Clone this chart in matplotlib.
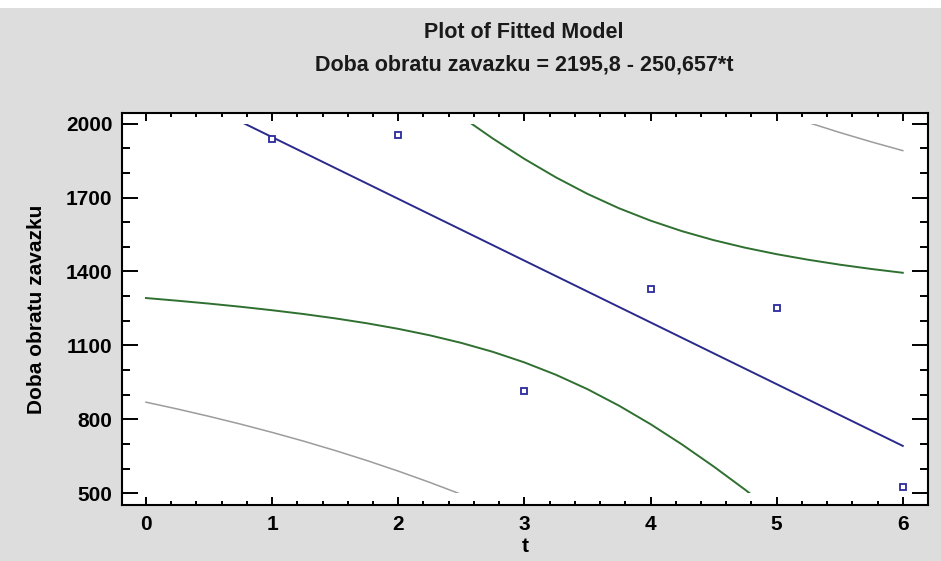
#!/usr/bin/env python3
"""
Plot of fitted model: Doba obratu zavazku vs t, with confidence and prediction limits.
"""

import matplotlib
matplotlib.use('Agg')
import matplotlib.pyplot as plt
from matplotlib.patches import Rectangle
from matplotlib.ticker import MultipleLocator

# Observed values
t_obs = [1, 2, 3, 4, 5, 6]
y_obs = [1939, 1955, 914, 1327, 1250, 525]

# Curves at quarter-step positions of t
t_grid = [0, 0.25, 0.5, 0.75, 1, 1.25, 1.5, 1.75, 2, 2.25, 2.5, 2.75, 3,
          3.25, 3.5, 3.75, 4, 4.25, 4.5, 4.75, 5, 5.25, 5.5, 5.75, 6]
fitted = [2195.8, 2133.1, 2070.5, 2007.8, 1945.1, 1882.5, 1819.8, 1757.2,
          1694.5, 1631.8, 1569.2, 1506.5, 1443.8, 1381.2, 1318.5, 1255.8,
          1193.2, 1130.5, 1067.8, 1005.2, 942.5, 879.9, 817.2, 754.5, 691.9]
conf_lower = [1292.0, 1281.1, 1269.4, 1256.6, 1242.5, 1227.0, 1209.5, 1189.7,
              1167.0, 1140.7, 1109.9, 1073.6, 1030.8, 980.6, 922.2, 855.2,
              780.2, 697.6, 608.5, 514.1, 415.0, 312.4, 206.9, 99.0, -10.7]
conf_upper = [3099.6, 2985.1, 2871.6, 2759.0, 2647.7, 2538.0, 2430.1, 2324.7,
              2222.0, 2122.9, 2028.5, 1939.4, 1856.8, 1781.8, 1714.8, 1656.4,
              1606.2, 1563.4, 1527.1, 1496.3, 1470.0, 1447.4, 1427.5, 1410.0, 1394.5]
pred_lower = [869.4, 841.5, 811.8, 780.3, 746.7, 711.1, 673.1, 632.7,
              589.6, 543.8, 495.2, 443.6, 388.8, 331.0, 269.9, 205.6,
              138.2, 67.6, -6.2, -82.8, -162.4, -244.6, -329.5, -416.9, -506.5]
pred_upper = [3522.2, 3424.7, 3329.2, 3235.3, 3143.5, 3053.9, 2966.5, 2881.7,
              2799.4, 2719.8, 2643.2, 2569.4, 2498.8, 2431.4, 2367.1, 2306.0,
              2248.2, 2193.4, 2141.8, 2093.2, 2047.4, 2004.4, 1963.9, 1925.9, 1890.3]

x_ticks = [0, 1, 2, 3, 4, 5, 6]
y_ticks = [500, 800, 1100, 1400, 1700, 2000]

title_line1 = 'Plot of Fitted Model'
title_line2 = 'Doba obratu zavazku = 2195,8 - 250,657*t'
x_label = 't'
y_label = 'Doba obratu zavazku'


def main():
    plt.rcParams['font.family'] = ['Liberation Sans', 'DejaVu Sans']
    plt.rcParams['font.weight'] = 'bold'

    fig = plt.figure(figsize=(9.41, 5.61), dpi=100)
    fig.patch.set_facecolor('#dddddd')
    # thin white strip along the very top
    fig.patches.append(Rectangle((0, 1 - 8 / 561), 1, 8 / 561, transform=fig.transFigure,
                                 facecolor='white', edgecolor='none', zorder=0))

    ax = fig.add_axes([122 / 941, 1 - 505 / 561, 806 / 941, 392 / 561])
    ax.set_facecolor('white')

    # curves are only drawn between 500 and 2000
    clip = Rectangle((-1, 500), 8, 1500, transform=ax.transData,
                     facecolor='none', edgecolor='none')

    lines = []
    lines += ax.plot(t_grid, pred_lower, color='#9c9c9c', lw=1.1)
    lines += ax.plot(t_grid, pred_upper, color='#9c9c9c', lw=1.1)
    lines += ax.plot(t_grid, conf_lower, color='#2f7030', lw=1.4)
    lines += ax.plot(t_grid, conf_upper, color='#2f7030', lw=1.4)
    lines += ax.plot(t_grid, fitted, color='#2a2a8c', lw=1.4)
    for ln in lines:
        ln.set_clip_path(clip)

    ax.plot(t_obs, y_obs, linestyle='none', marker='s', markersize=4,
            markerfacecolor='white', markeredgecolor='#2a2a9c', markeredgewidth=1.3)

    ax.set_xlim(-0.19, 6.2)
    ax.set_ylim(452, 2043)
    ax.set_xticks(x_ticks)
    ax.set_yticks(y_ticks)
    ax.xaxis.set_minor_locator(MultipleLocator(0.2))
    ax.yaxis.set_minor_locator(MultipleLocator(100))

    ax.tick_params(axis='both', which='both', direction='in', top=True, right=True,
                   width=1.4, color='black', labelsize=15)
    ax.tick_params(axis='x', which='major', length=5.8, pad=7)
    ax.tick_params(axis='x', which='minor', length=2.9)
    ax.tick_params(axis='y', which='major', length=11.5, pad=7)
    ax.tick_params(axis='y', which='minor', length=5.8)
    for side in ax.spines.values():
        side.set_linewidth(1.5)

    ax.set_xlabel(x_label, fontsize=15, fontweight='bold', labelpad=2)
    ax.set_ylabel(y_label, fontsize=15, fontweight='bold', labelpad=14)

    fig.text(524 / 941, 1 - 33 / 561, title_line1, ha='center', va='center',
             fontsize=15.5, fontweight='bold', color='#1a1a1a')
    fig.text(524 / 941, 1 - 65 / 561, title_line2, ha='center', va='center',
             fontsize=15.5, fontweight='bold', color='#1a1a1a')

    plt.savefig('out.png', dpi=100, facecolor=fig.get_facecolor())


if __name__ == "__main__":
    main()
